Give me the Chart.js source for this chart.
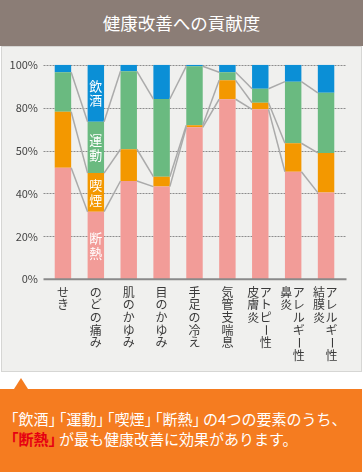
<!DOCTYPE html>
<html><head><meta charset="utf-8">
<script src="https://cdn.jsdelivr.net/npm/chart.js@4/dist/chart.umd.min.js"></script>
<style>
html,body{margin:0;padding:0;background:#fff;width:363px;height:472px;overflow:hidden;font-family:"Noto Sans CJK JP","Noto Sans",sans-serif;}
#hdr{position:absolute;left:0;top:0;width:363px;height:46px;background:#8b7d76;color:#fff;font-size:17.5px;line-height:46px;text-align:center;}
#panel{position:absolute;left:1px;top:46px;width:359px;height:324px;background:#f0f0ee;border:1px solid #d6d6d4;}
#cv{position:absolute;left:0;top:47px;}
#foot{position:absolute;left:0;top:389px;width:362px;height:83px;background:#f57c20;}
#tri{position:absolute;left:14px;top:378px;width:0;height:0;border-left:7px solid transparent;border-right:7px solid transparent;border-bottom:11px solid #f57c20;}
#txt{position:absolute;left:11px;top:20px;color:#fff;font-size:15px;line-height:20px;white-space:nowrap;}
.b{font-feature-settings:"halt";}
.g{margin-right:3px;}
.r{color:#e60012;font-weight:bold;}
</style>
</head><body>
<div id="hdr">健康改善への貢献度</div>
<div id="panel"></div>
<canvas id="cv" width="363" height="325"></canvas>
<div id="tri"></div>
<div id="foot"><div id="txt"><span class="b g">「飲酒」</span><span class="b g">「運動」</span><span class="b g">「喫煙」</span><span class="b g">「断熱」</span>の4つの要素のうち、<br><span class="r b g">「断熱」</span>が最も健康改善に効果があります。</div></div>
<script>
// categories (each label split into vertical columns, right column first)
const categories = ['せき','のどの痛み','肌のかゆみ','目のかゆみ','手足の冷え','気管支喘息','アトピー性皮膚炎','アレルギー性鼻炎','アレルギー性結膜炎'];
const categoryColumns = [['せき'],['のどの痛み'],['肌のかゆみ'],['目のかゆみ'],['手足の冷え'],['気管支喘息'],['アトピー性','皮膚炎'],['アレルギー性','鼻炎'],['アレルギー性','結膜炎']];
const seriesNames = ['断熱','喫煙','運動','飲酒'];
const danetsu = [52.0, 31.5, 45.8, 43.2, 70.8, 83.9, 79.2, 50.1, 40.4];
const kitsuen = [26.1, 18.0, 14.8, 4.6, 1.0, 8.8, 3.1, 13.3, 18.5];
const undou   = [18.4, 23.9, 36.3, 36.2, 27.5, 3.8, 6.5, 28.7, 28.0];
const inshu   = [3.5, 26.6, 3.1, 16.0, 0.7, 3.5, 11.2, 7.9, 13.1];
const yTickValues = [0, 20, 40, 60, 80, 100];
const yTickLabels = ['0%', '20%', '40%', '50%', '80%', '100%'];
const labelledCategory = 1; // series names written inside this bar

const colors = ['#f29c98', '#f39800', '#6aba80', '#0b8fd6'];
const seriesData = [danetsu, kitsuen, undou, inshu];

const deco = {
  id: 'deco',
  beforeDatasetsDraw(chart) {
    const { ctx, chartArea: a, scales: { y } } = chart;
    ctx.save();
    ctx.strokeStyle = '#8c8c8c'; ctx.lineWidth = 1; ctx.setLineDash([2, 1]);
    yTickValues.forEach(v => {
      if (v === 0) return;
      const py = Math.round(y.getPixelForValue(v)) + 0.5;
      ctx.beginPath(); ctx.moveTo(a.left - 3, py); ctx.lineTo(a.right + 4, py); ctx.stroke();
    });
    ctx.restore();
  },
  afterDatasetsDraw(chart) {
    const { ctx, chartArea: a, scales: { x, y } } = chart;
    const metas = chart.data.datasets.map((d, i) => chart.getDatasetMeta(i));
    ctx.save();
    // series connector lines
    ctx.strokeStyle = '#aaaaaa'; ctx.lineWidth = 1.5;
    for (let k = 0; k < metas.length - 1; k++) {
      const els = metas[k].data;
      for (let i = 0; i < els.length - 1; i++) {
        const e1 = els[i], e2 = els[i + 1];
        ctx.beginPath();
        ctx.moveTo(e1.x + e1.width / 2, e1.y);
        ctx.lineTo(e2.x - e2.width / 2, e2.y);
        ctx.stroke();
      }
    }
    // baseline
    const by = y.getPixelForValue(0);
    ctx.strokeStyle = '#8a8a8a'; ctx.lineWidth = 2;
    ctx.beginPath(); ctx.moveTo(a.left - 3, by); ctx.lineTo(a.right + 4, by); ctx.stroke();
    // in-bar series names (vertical)
    ctx.fillStyle = '#ffffff';
    ctx.font = '13px "Noto Sans CJK JP"';
    ctx.textAlign = 'center'; ctx.textBaseline = 'middle';
    metas.forEach((m, k) => {
      const el = m.data[labelledCategory];
      const cy = (el.y + el.base) / 2;
      const chars = [...seriesNames[k]];
      chars.forEach((c, j) => {
        ctx.fillText(c, el.x, cy + (j - (chars.length - 1) / 2) * 14.5);
      });
    });
    // x labels (vertical writing)
    ctx.fillStyle = '#3a3a3a';
    ctx.font = '12px "Noto Sans CJK JP"';
    categoryColumns.forEach((cols, i) => {
      const cx = x.getPixelForValue(i);
      cols.forEach((col, j) => {
        const colX = cols.length === 1 ? cx : cx + 5.5 - j * 12.5;
        [...col].forEach((c, n) => {
          const cyy = a.bottom + 13 + n * 12.6;
          if (c === 'ー') {
            ctx.save(); ctx.translate(colX, cyy); ctx.rotate(Math.PI / 2);
            ctx.fillText(c, 0, 0); ctx.restore();
          } else {
            ctx.fillText(c, colX, cyy);
          }
        });
      });
    });
    ctx.restore();
  }
};

new Chart(document.getElementById('cv'), {
  type: 'bar',
  data: {
    labels: categories,
    datasets: seriesData.map((d, i) => ({
      label: seriesNames[i], data: d, backgroundColor: colors[i],
      borderWidth: 0, barPercentage: 1, categoryPercentage: 0.5
    }))
  },
  options: {
    responsive: false, animation: false, devicePixelRatio: 1,
    layout: { padding: { top: 17.7, right: 20.5, left: 0, bottom: 0 } },
    plugins: { legend: { display: false }, tooltip: { enabled: false } },
    scales: {
      x: {
        stacked: true,
        grid: { display: false, drawTicks: false },
        border: { display: false },
        ticks: { display: false },
        afterFit: s => { s.height = 92.7; }
      },
      y: {
        stacked: true, min: 0, max: 100,
        afterBuildTicks: s => { s.ticks = yTickValues.map(v => ({ value: v })); },
        grid: { display: false, drawTicks: false },
        border: { display: false },
        ticks: {
          padding: 8.5, color: '#444', font: { family: '"Noto Sans CJK JP"', size: 11 },
          callback: (v, i) => yTickLabels[i]
        },
        afterFit: s => { s.width = 46.5; }
      }
    }
  },
  plugins: [deco]
});
</script>
</body></html>
